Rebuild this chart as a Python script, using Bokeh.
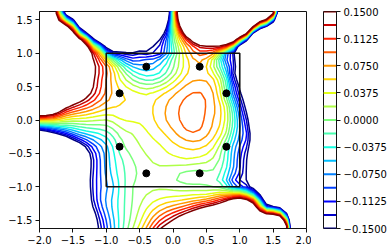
import numpy as np
from bokeh.plotting import figure
from bokeh.layouts import row
from bokeh.models import FixedTicker, CustomJSTickFormatter
from bokeh.embed import file_html
from bokeh.resources import INLINE

# ---------------- data ----------------
# estimated field values inside the square (rows of INNER_Y, columns of INNER_X)
INNER_X = [-0.95, -0.8, -0.6, -0.4, -0.2, 0.0, 0.2, 0.4, 0.6, 0.8, 0.95]
INNER_Y = [0.9, 0.75, 0.6, 0.4, 0.2, 0.0, -0.2, -0.4, -0.6, -0.8, -1.0]
INNER_V = [
    [0.03, -0.05, -0.10, -0.09, -0.07, -0.01, 0.05, 0.08, 0.03, -0.09, -0.16],
    [0.08, 0.02, -0.04, -0.06, -0.045, 0.0, 0.05, 0.07, 0.03, -0.06, -0.16],
    [0.08, 0.04, 0.0, -0.02, -0.01, 0.03, 0.065, 0.075, 0.06, -0.03, -0.15],
    [0.08, 0.06, 0.045, 0.035, 0.05, 0.07, 0.09, 0.095, 0.075, -0.01, -0.115],
    [0.06, 0.055, 0.05, 0.05, 0.065, 0.085, 0.10, 0.10, 0.08, 0.025, -0.07],
    [0.02, 0.035, 0.04, 0.045, 0.065, 0.085, 0.10, 0.10, 0.075, 0.03, -0.05],
    [-0.02, 0.005, 0.02, 0.035, 0.05, 0.07, 0.09, 0.09, 0.065, 0.015, -0.06],
    [-0.05, -0.01, 0.01, 0.025, 0.035, 0.05, 0.06, 0.06, 0.04, -0.02, -0.08],
    [-0.055, -0.025, 0.0, 0.015, 0.025, 0.03, 0.035, 0.03, 0.015, -0.03, -0.09],
    [-0.06, -0.03, -0.005, 0.01, 0.012, 0.005, -0.005, -0.008, -0.005, -0.045, -0.10],
    [-0.07, -0.035, 0.0, 0.012, 0.015, 0.01, 0.005, 0.005, 0.0, -0.03, -0.10],
]
TOP_X = [-0.8, -0.6, -0.4, -0.2, 0.0, 0.2, 0.4, 0.6, 0.8]
TOP_Y = 1.0
TOP_V = [-0.13, -0.145, -0.14, -0.12, -0.03, 0.06, 0.10, 0.08, -0.08]

# points where the +0.15, -0.15 and 0 contour lines were read
P15_X = [-1.745, -1.52, -1.32, -1.195, -1.17, -1.22, -1.395, -1.62, -1.92, -2.0,
         0.06, 0.10, 0.185, 0.31, 0.51, 0.76, 0.91, 1.16, 1.51,
         -0.17, -0.02, 0.23, 0.48, 0.73, 0.98, 1.23, 1.48, 1.705]
P15_Y = [1.62, 1.37, 1.17, 0.92, 0.67, 0.42, 0.27, 0.17, 0.07, 0.065,
         1.62, 1.42, 1.27, 1.17, 1.11, 1.11, 1.17, 1.345, 1.62,
         -1.61, -1.51, -1.385, -1.3, -1.235, -1.16, -1.26, -1.41, -1.585]
M15_X = [-1.645, -1.395, -1.145, -0.97, -0.77, -0.52, -0.27, -0.12, -0.045,
         1.55, 1.21, 0.985, 0.935, 0.92, 1.01, 1.085, 1.135, 1.17, 1.135, 1.10, 1.10, 1.16, 1.41, 1.735,
         -2.02, -1.72, -1.47, -1.27, -1.23, -1.245, -1.22, -1.12]
M15_Y = [1.62, 1.37, 1.17, 1.045, 1.02, 1.045, 1.145, 1.32, 1.62,
         1.62, 1.32, 1.12, 0.92, 0.67, 0.42, 0.17, -0.03, -0.235, -0.435, -0.685, -0.885, -1.01, -1.285, -1.585,
         -0.145, -0.21, -0.31, -0.46, -0.685, -0.935, -1.235, -1.585]
Z0_X = [-1.695, -1.46, -1.235, -1.09, 0.0, 0.0, 0.02, 1.53, 1.185, 0.95,
        1.72, 1.44, 1.08, -2.0, -1.5, -1.2, -0.67, -0.62]
Z0_Y = [1.62, 1.37, 1.17, 1.07, 1.62, 1.4, 1.17, 1.62, 1.335, 1.145,
        -1.59, -1.35, -1.09, -0.045, -0.05, -0.07, -1.6, -1.3]
# a few other levels
MID_X = [-1.07, -0.45, -0.02, 0.48]
MID_Y = [0.6, -1.6, -1.225, -1.16]
MID_V = [0.1125, 0.056, 0.056, 0.056]
# rough values deep inside the blank (out of range) regions
FAR_X = [-1.6, -2.0, -1.9, -1.6, -2.0, -1.8, -1.5, -1.9,
         -1.0, -0.6, -0.5, -1.1, -0.3, -1.4, -0.6, -0.25,
         0.5, 0.3, 0.9, 0.7, 1.3, 0.4, 0.6, 1.0, 0.25,
         1.4, 1.5, 1.5, 1.9, 1.9, 1.9, 1.6, 2.0, 2.0, 2.0, 2.0, 1.3, 1.3, 1.35, 1.6,
         0.5, 0.0, 1.0, 1.3, 0.8, 0.3,
         -1.6, -2.0, -1.8, -1.5, -2.0, -1.6, -1.5, -1.45,
         -1.95, -1.0, -0.4, 0.4, 1.0, 1.95, -1.8, -1.35, 0.3, 1.0, 1.95]
FAR_Y = [0.6, 0.6, 1.2, 0.9, 1.6, 0.35, 0.45, 0.25,
         1.3, 1.3, 1.6, 1.6, 1.45, 1.55, 1.2, 1.6,
         1.4, 1.6, 1.5, 1.25, 1.55, 1.25, 1.3, 1.35, 1.45,
         1.0, 0.4, -0.5, 0.0, 1.3, -1.0, -1.0, 1.6, -1.6, 0.8, -0.6, 0.5, -0.2, -0.8, 1.3,
         -1.6, -1.6, -1.5, -1.6, -1.45, -1.55,
         -0.7, -0.6, -1.4, -1.6, -1.0, -1.2, -0.45, -1.0,
         1.7, 1.7, 1.7, 1.7, 1.7, 1.7, -1.7, -1.7, -1.7, -1.7, -1.7]
FAR_V = [0.3, 0.5, 0.5, 0.3, 0.5, 0.35, 0.25, 0.4,
         -0.35, -0.4, -0.6, -0.55, -0.4, -0.3, -0.28, -0.5,
         0.5, 0.6, 0.45, 0.25, 0.35, 0.28, 0.35, 0.4, 0.45,
         -0.4, -0.45, -0.45, -0.8, -0.6, -0.7, -0.45, -0.6, -0.6, -0.8, -0.8, -0.3, -0.3, -0.3, -0.5,
         0.35, 0.18, 0.35, 0.4, 0.3, 0.28,
         -0.4, -0.7, -0.7, -0.5, -0.8, -0.5, -0.3, -0.3,
         0.6, -0.6, -0.6, 0.7, 0.6, -0.6, -0.9, -0.3, 0.4, 0.5, -0.6]

PTS_X = [-0.4, 0.4, -0.8, 0.8, -0.8, 0.8, -0.4, 0.4]
PTS_Y = [0.8, 0.8, 0.4, 0.4, -0.4, -0.4, -0.8, -0.8]
BOX_X = [-1, 1, 1, -1, -1]
BOX_Y = [-1, -1, 1, 1, -1]

LEVELS = list(np.linspace(-0.15, 0.15, 17))
CB_TICKS = [-0.15, -0.1125, -0.075, -0.0375, 0.0, 0.0375, 0.075, 0.1125, 0.15]
X_TICKS = [-2.0, -1.5, -1.0, -0.5, 0.0, 0.5, 1.0, 1.5, 2.0]
Y_TICKS = [-1.5, -1.0, -0.5, 0.0, 0.5, 1.0, 1.5]

# ---------------- smooth surface (thin-plate spline) through the readings ----------------
ox, oy, ov, os_ = [], [], [], []
for j, yy in enumerate(INNER_Y):
    for i, xx in enumerate(INNER_X):
        ox.append(xx); oy.append(yy); ov.append(INNER_V[j][i]); os_.append(1e-5)
for xx, vv in zip(TOP_X, TOP_V):
    ox.append(xx); oy.append(TOP_Y); ov.append(vv); os_.append(1e-5)
for xs, ys, lv in ((P15_X, P15_Y, 0.15), (M15_X, M15_Y, -0.15), (Z0_X, Z0_Y, 0.0)):
    for xx, yy in zip(xs, ys):
        ox.append(xx); oy.append(yy); ov.append(lv); os_.append(2e-6)
for xx, yy, vv in zip(MID_X, MID_Y, MID_V):
    ox.append(xx); oy.append(yy); ov.append(vv); os_.append(5e-6)
for xx, yy, vv in zip(FAR_X, FAR_Y, FAR_V):
    ox.append(xx); oy.append(yy); ov.append(vv); os_.append(2e-5)
ox, oy, ov, os_ = map(np.asarray, (ox, oy, ov, os_))


def tps(r):
    return np.where(r > 0, r * r * np.log(np.maximum(r, 1e-12)), 0.0)


n = len(ox)
K = tps(np.hypot(ox[:, None] - ox[None, :], oy[:, None] - oy[None, :])) + np.diag(os_)
P = np.column_stack([np.ones(n), ox, oy])
M = np.zeros((n + 3, n + 3))
M[:n, :n] = K
M[:n, n:] = P
M[n:, :n] = P.T
sol = np.linalg.solve(M, np.concatenate([ov, np.zeros(3)]))
wts, aff = sol[:n], sol[n:]

gx = np.linspace(-2.0, 2.0, 41)
gy = np.linspace(-1.7, 1.7, 35)
GX, GY = np.meshgrid(gx, gy)
fx, fy = GX.ravel(), GY.ravel()
Kg = tps(np.hypot(fx[:, None] - ox[None, :], fy[:, None] - oy[None, :]))
Z = (Kg @ wts + aff[0] + aff[1] * fx + aff[2] * fy).reshape(GX.shape)

# ---------------- jet colours for the levels ----------------
def jet(t):
    r = np.interp(t, [0, 0.35, 0.66, 0.89, 1], [0, 0, 1, 1, 0.5])
    g = np.interp(t, [0, 0.125, 0.375, 0.64, 0.91, 1], [0, 0, 1, 1, 0, 0])
    bb = np.interp(t, [0, 0.11, 0.34, 0.65, 1], [0.5, 1, 1, 0, 0])
    return "#%02x%02x%02x" % (int(round(r * 255)), int(round(g * 255)), int(round(bb * 255)))


COLORS = [jet((lv + 0.15) / 0.3) for lv in LEVELS]

FONT = "DejaVu Sans"

# ---------------- main plot ----------------
p = figure(width=311, height=252, x_range=(-2.0, 2.0), y_range=(-1.627, 1.627),
           output_backend="svg", toolbar_location=None,
           min_border_left=39, min_border_right=5, min_border_top=11, min_border_bottom=24)
p.grid.visible = False
p.outline_line_color = "#111111"
p.outline_line_width = 1
p.background_fill_color = "white"

p.contour(gx, gy, Z, LEVELS, line_color=COLORS, line_width=1.5, fill_color=None)
p.line(BOX_X, BOX_Y, line_color="#111111", line_width=1.6)
p.scatter(PTS_X, PTS_Y, size=7, color="black")

fmt1 = CustomJSTickFormatter(code="""
const s = Math.abs(tick).toFixed(1);
return (tick < -1e-9 ? '\u2212' : '') + s;
""")
p.xaxis.ticker = FixedTicker(ticks=X_TICKS)
p.yaxis.ticker = FixedTicker(ticks=Y_TICKS)
for ax in (p.xaxis, p.yaxis):
    ax.formatter = fmt1
    ax.major_label_text_font = FONT
    ax.major_label_text_font_size = "10px"
    ax.major_label_text_color = "black"
    ax.axis_line_color = "#111111"
    ax.major_tick_line_color = "#111111"
    ax.major_tick_out = 4
    ax.major_tick_in = 0
    ax.minor_tick_line_color = None
    ax.major_label_standoff = 3

# ---------------- colour bar ----------------
cb = figure(width=80, height=252, x_range=(0, 1), y_range=(-0.15, 0.15),
            output_backend="svg", toolbar_location=None,
            x_axis_location=None, y_axis_location="right",
            min_border_left=12, min_border_right=55, min_border_top=11, min_border_bottom=24)
cb.grid.visible = False
cb.outline_line_color = "#111111"
cb.outline_line_width = 1
cb.segment(x0=[0] * len(LEVELS), x1=[1] * len(LEVELS), y0=LEVELS, y1=LEVELS,
           line_color=COLORS, line_width=2)
fmt4 = CustomJSTickFormatter(code="""
const s = Math.abs(tick).toFixed(4);
return (tick < -1e-9 ? '\u2212' : '') + s;
""")
cb.yaxis.ticker = FixedTicker(ticks=CB_TICKS)
cb.yaxis.formatter = fmt4
cb.yaxis.major_label_text_font = FONT
cb.yaxis.major_label_text_font_size = "10px"
cb.yaxis.major_label_text_color = "black"
cb.yaxis.axis_line_color = "#111111"
cb.yaxis.major_tick_line_color = "#111111"
cb.yaxis.major_tick_out = 4
cb.yaxis.major_tick_in = 0
cb.yaxis.minor_tick_line_color = None
cb.yaxis.major_label_standoff = 3

layout = row(p, cb)
open("out.html", "w").write(file_html(layout, INLINE))
